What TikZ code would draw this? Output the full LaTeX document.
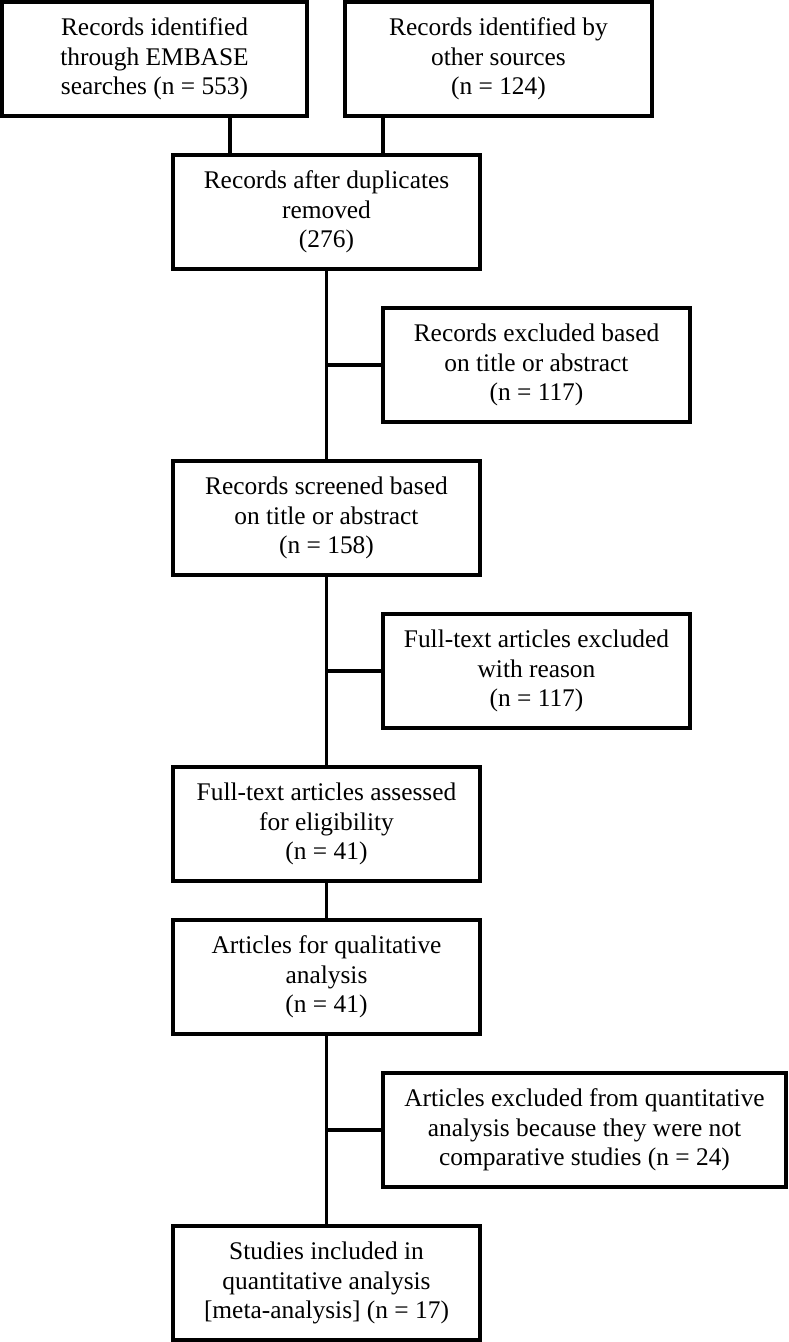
\documentclass[tikz,border=0pt]{standalone}
\usepackage{fontspec}
\setmainfont{Liberation Serif}
\begin{document}
\begin{tikzpicture}[x=1pt,y=1pt,
  box/.style={draw=black,line width=3.3pt,rectangle,inner sep=0pt,
    minimum height=114pt,align=center,
    font=\fontsize{25.4}{29.5}\selectfont},
  w307/.style={minimum width=307pt},
  w305/.style={minimum width=305pt},
  w403/.style={minimum width=403pt},
  link/.style={line width=3.3pt}]
\useasboundingbox (0,0) rectangle (789,-1342);
\node[box,w305] (A) at (154.5,-59) {Records identified\\through EMBASE\\searches (n = 553)};
\node[box,w307] (B) at (498.5,-59) {Records identified by\\other sources\\(n = 124)};
\node[box,w307] (C) at (326.5,-212) {Records after duplicates\\removed\\(276)};
\node[box,w307] (E1) at (536.5,-365) {Records excluded based\\on title or abstract\\(n = 117)};
\node[box,w307] (D) at (326.5,-518) {Records screened based\\on title or abstract\\(n = 158)};
\node[box,w307] (E2) at (536.5,-671) {Full-text articles excluded\\with reason\\(n = 117)};
\node[box,w307] (F) at (326.5,-824) {Full-text articles assessed\\for eligibility\\(n = 41)};
\node[box,w307] (G) at (326.5,-977) {Articles for qualitative\\analysis\\(n = 41)};
\node[box,w403] (E3) at (584.5,-1130) {Articles excluded from quantitative\\analysis because they were not\\comparative studies (n = 24)};
\node[box,w307] (H) at (326.5,-1283) {Studies included in\\quantitative analysis\\{[}meta-analysis{]} (n = 17)};
\draw[link] ([xshift=75.5pt]A.south) -- ([xshift=75.5pt]A.south |- C.north);
\draw[link] ([xshift=-115.5pt]B.south) -- ([xshift=-115.5pt]B.south |- C.north);
\draw[link] (C.south) -- (D.north);
\draw[link] (D.south) -- (F.north);
\draw[link] (F.south) -- (G.north);
\draw[link] (G.south) -- (H.north);
\draw[link] (C.south |- E1.west) -- (E1.west);
\draw[link] (D.south |- E2.west) -- (E2.west);
\draw[link] (G.south |- E3.west) -- (E3.west);
\end{tikzpicture}
\end{document}
